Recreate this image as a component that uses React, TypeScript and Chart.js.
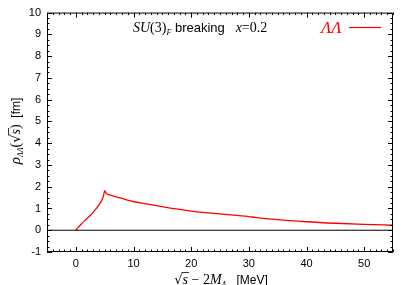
import React, { useEffect, useRef } from "react";
import { Chart, registerables } from "chart.js";

Chart.register(...registerables);

const energyMeV = [0, 0.25, 0.5, 1, 1.5, 2, 2.5, 3, 3.5, 4, 4.5, 4.8, 5, 5.3, 5.6, 6, 7, 8, 10, 12, 15, 20, 25, 30, 31, 32, 35, 40, 45, 50, 55];
const rhoLL = [0, 0.08, 0.15, 0.3, 0.43, 0.55, 0.68, 0.82, 0.98, 1.15, 1.38, 1.58, 1.82, 1.68, 1.64, 1.61, 1.53, 1.46, 1.32, 1.22, 1.08, 0.88, 0.75, 0.63, 0.59, 0.56, 0.49, 0.39, 0.32, 0.27, 0.23];
const zeroLineX = [-5, 55];
const zeroLineY = [0, 0];
const xTickValues = [0, 10, 20, 30, 40, 50];
const yTickValues = [-1, 0, 1, 2, 3, 4, 5, 6, 7, 8, 9, 10];

type Seg = { t: string; f: string; dy?: number; c?: string };

function drawRich(ctx: CanvasRenderingContext2D, segs: Seg[], x: number, y: number, align: "left" | "center") {
  let total = 0;
  for (const s of segs) {
    ctx.font = s.f;
    total += ctx.measureText(s.t).width;
  }
  let cx = align === "center" ? x - total / 2 : x;
  ctx.textBaseline = "alphabetic";
  ctx.textAlign = "left";
  const pos: number[] = [];
  for (const s of segs) {
    ctx.font = s.f;
    ctx.fillStyle = s.c || "#000";
    pos.push(cx);
    ctx.fillText(s.t, cx, y + (s.dy || 0));
    cx += ctx.measureText(s.t).width;
  }
  return pos;
}

const framePlugin = {
  id: "frame",
  afterDatasetsDraw(chart: any) {
    const { ctx, chartArea: a, scales } = chart;
    const xs = scales.x;
    const ys = scales.y;
    ctx.save();
    ctx.strokeStyle = "#000";
    ctx.lineWidth = 1;
    ctx.beginPath();
    ctx.rect(a.left + 0.5, a.top + 0.5, a.right - a.left - 1, a.bottom - a.top - 1);
    ctx.stroke();
    ctx.beginPath();
    for (let v = -5; v <= 55; v += 1) {
      const px = Math.round(xs.getPixelForValue(v)) + 0.5;
      const len = v % 10 === 0 ? 5 : 2.5;
      ctx.moveTo(px, a.bottom);
      ctx.lineTo(px, a.bottom - len);
      ctx.moveTo(px, a.top);
      ctx.lineTo(px, a.top + len);
    }
    for (let i = -4; i <= 40; i++) {
      const v = i / 4;
      const py = Math.round(ys.getPixelForValue(v)) + 0.5;
      const len = i % 4 === 0 ? 5 : 2.5;
      ctx.moveTo(a.left, py);
      ctx.lineTo(a.left + len, py);
      ctx.moveTo(a.right, py);
      ctx.lineTo(a.right - len, py);
    }
    ctx.stroke();

    const serifI = "italic 14px 'Liberation Serif'";
    const serif = "14px 'Liberation Serif'";
    const sans = "13px 'Liberation Sans'";
    drawRich(ctx, [
      { t: "SU", f: serifI },
      { t: "(3)", f: serif },
      { t: "F", f: "italic 8px 'Liberation Serif'", dy: 3 },
      { t: " breaking   ", f: sans },
      { t: "x", f: serifI },
      { t: "=0.2", f: serif },
    ], 133, 32, "left");

    drawRich(ctx, [{ t: "ΛΛ", f: "italic 17px 'Liberation Serif'", c: "#ff0000" }], 321, 33, "left");
    ctx.strokeStyle = "#ff0000";
    ctx.lineWidth = 1.2;
    ctx.beginPath();
    ctx.moveTo(349, 27.5);
    ctx.lineTo(381, 27.5);
    ctx.stroke();

    ctx.fillStyle = "#000";
    const xl = drawRich(ctx, [
      { t: "√", f: "13px 'DejaVu Serif'" },
      { t: "s", f: serifI },
      { t: " − 2", f: serif },
      { t: "M", f: serifI },
      { t: "Λ", f: "italic 8px 'Liberation Serif'", dy: 3 },
      { t: "   [MeV]", f: "12px 'Liberation Sans'" },
    ], 221, 284, "center");
    ctx.font = serifI;
    const sw = ctx.measureText("s").width;
    ctx.strokeStyle = "#000";
    ctx.lineWidth = 0.8;
    ctx.beginPath();
    ctx.moveTo(xl[1] - 1, 272.5);
    ctx.lineTo(xl[1] + sw + 1, 272.5);
    ctx.stroke();

    ctx.save();
    ctx.translate(20, 131);
    ctx.rotate(-Math.PI / 2);
    const yl = drawRich(ctx, [
      { t: "ρ", f: "italic 15px 'Liberation Serif'" },
      { t: "ΛΛ", f: "italic 8px 'Liberation Serif'", dy: 3 },
      { t: "(", f: serif },
      { t: "√", f: "13px 'DejaVu Serif'" },
      { t: "s", f: serifI },
      { t: ")", f: serif },
      { t: "  [fm]", f: "12px 'Liberation Sans'" },
    ], 0, 0, "center");
    ctx.strokeStyle = "#000";
    ctx.lineWidth = 0.8;
    ctx.beginPath();
    ctx.moveTo(yl[4] - 1, -11.5);
    ctx.lineTo(yl[4] + sw + 1, -11.5);
    ctx.stroke();
    ctx.restore();

    ctx.restore();
  },
};

export default function App() {
  const ref = useRef<HTMLCanvasElement | null>(null);
  useEffect(() => {
    document.body.style.margin = "0";
    const canvas = ref.current!;
    const chart = new Chart(canvas, {
      type: "line",
      data: {
        datasets: [
          {
            data: zeroLineX.map((x, i) => ({ x, y: zeroLineY[i] })),
            borderColor: "#000",
            borderWidth: 1,
            pointRadius: 0,
            tension: 0,
          },
          {
            data: energyMeV.map((x, i) => ({ x, y: rhoLL[i] })),
            borderColor: "#ff0000",
            borderWidth: 1.3,
            pointRadius: 0,
            cubicInterpolationMode: "monotone",
          },
        ],
      },
      options: {
        responsive: false,
        animation: false,
        events: [],
        layout: { padding: { top: 11, right: 14, left: 0, bottom: 0 } },
        plugins: { legend: { display: false }, tooltip: { enabled: false }, title: { display: false } },
        scales: {
          x: {
            type: "linear",
            min: -5,
            max: 55,
            afterBuildTicks: (s: any) => {
              s.ticks = xTickValues.map((v) => ({ value: v }));
            },
            afterFit: (s: any) => {
              s.height = 33;
            },
            grid: { display: false, drawTicks: false },
            border: { display: false },
            ticks: { padding: 5, color: "#000", font: { family: "'Liberation Sans'", size: 11 }, maxRotation: 0, autoSkip: false },
          },
          y: {
            type: "linear",
            min: -1,
            max: 10,
            afterBuildTicks: (s: any) => {
              s.ticks = yTickValues.map((v) => ({ value: v }));
            },
            afterFit: (s: any) => {
              s.width = 47;
            },
            grid: { display: false, drawTicks: false },
            border: { display: false },
            ticks: { padding: 6, color: "#000", font: { family: "'Liberation Sans'", size: 11 }, autoSkip: false },
          },
        },
      },
      plugins: [framePlugin],
    } as any);
    return () => chart.destroy();
  }, []);
  return (
    <div style={{ position: "absolute", left: 0, top: 0, width: 407, height: 285, background: "#fff" }}>
      <canvas ref={ref} width={407} height={285} />
    </div>
  );
}
